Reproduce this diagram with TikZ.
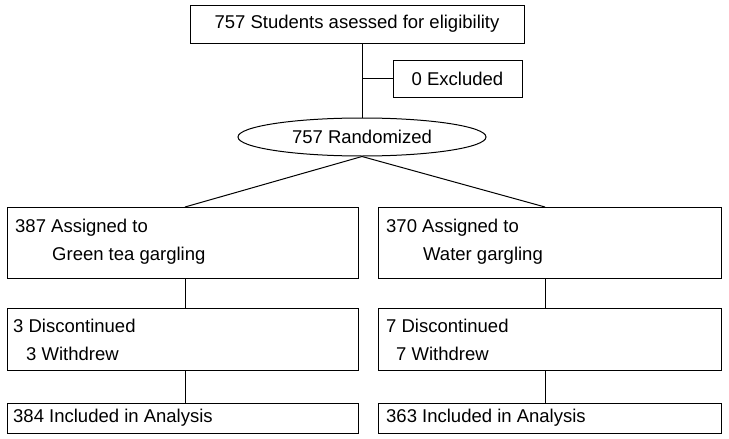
\documentclass[tikz,border=0pt]{standalone}
\usepackage{fontspec}
\setmainfont{Liberation Sans}
\usetikzlibrary{shapes.geometric}
\begin{document}
\begin{tikzpicture}[x=1pt,y=-1pt,
  bx/.style={draw,line width=1pt,inner sep=0pt},
  f/.style={font=\fontsize{18.5}{20}\selectfont},
  t/.style={f,anchor=west,inner sep=0pt},
  ln/.style={line width=1pt}]
\useasboundingbox (0,0) rectangle (729,439);
\node[bx,f,minimum width=334,minimum height=38] (top) at (357,24) {757 Students asessed for eligibility};
\node[bx,f,minimum width=129,minimum height=37] (exc) at (457.5,78.5) {0 Excluded};
\node[draw,ellipse,line width=1pt,minimum width=248,minimum height=38,inner sep=0pt,f] (rand) at (362,137) {757 Randomized};
\coordinate (j) at (362,78.5);
\draw[ln] (362,43) -- (rand.north);
\draw[ln] (j) -- (exc.west);
\node[bx,minimum width=351,minimum height=71] (l1) at (182.5,242.5) {};
\node[bx,minimum width=351,minimum height=62] (l2) at (182.5,339) {};
\node[bx,minimum width=351,minimum height=30] (l3) at (182.5,418) {};
\node[bx,minimum width=343,minimum height=71] (r1) at (549.5,242.5) {};
\node[bx,minimum width=343,minimum height=62] (r2) at (549.5,339) {};
\node[bx,minimum width=343,minimum height=30] (r3) at (549.5,418) {};
\node[t] (a1) at (15,228) {387 Assigned to};
\node[t] (a2) at (52,256) {Green tea gargling};
\node[t] (b1) at (386,228) {370 Assigned to};
\node[t] (b2) at (423,256) {Water gargling};
\node[t] (a3) at (13,326) {3 Discontinued};
\node[t] (a4) at (26,354) {3 Withdrew};
\node[t] (b3) at (386,326) {7 Discontinued};
\node[t] (b4) at (396,354) {7 Withdrew};
\node[t] (a5) at (13,418) {384 Included in Analysis};
\node[t] (b5) at (386,418) {363 Included in Analysis};
\draw[ln] (rand.south) -- (185,207);
\draw[ln] (rand.south) -- (545,207);
\draw[ln] (185,278) -- (185,308);
\draw[ln] (185,370) -- (185,403);
\draw[ln] (545,278) -- (545,308);
\draw[ln] (545,370) -- (545,403);
\end{tikzpicture}
\end{document}
